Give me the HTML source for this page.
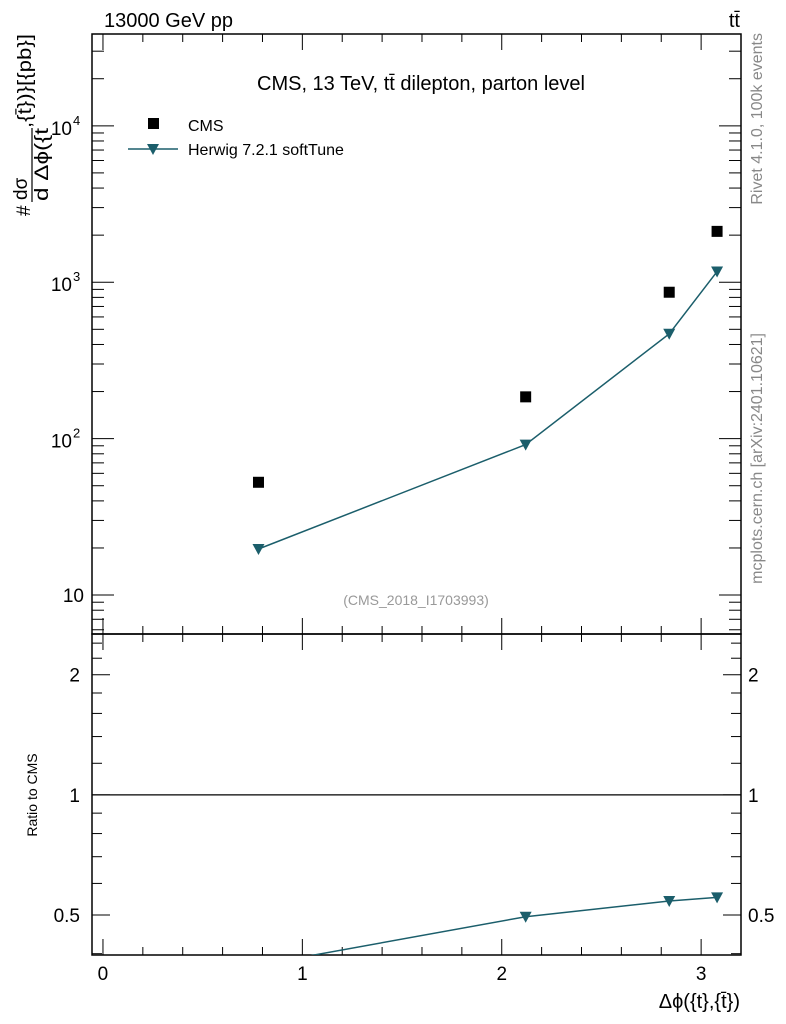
<!DOCTYPE html>
<html><head><meta charset="utf-8">
<style>
html,body{margin:0;padding:0;background:#fff;}
svg{display:block;font-family:"Liberation Sans",sans-serif;}
</style></head>
<body>
<svg id="chart" width="786" height="1024" viewBox="0 0 786 1024" xmlns="http://www.w3.org/2000/svg">
<g id="g"></g>
</svg>
<script>
const categories = [0.78, 2.12, 2.84, 3.08];
const cmsValues = [52.6, 185, 863, 2114];
const herwigValues = [19.7, 91.6, 468, 1170];
const xTicks = [0, 1, 2, 3];
const mainYTicks = [10, 100, 1000, 10000];
const mainYTickLabels = ["10", "10²", "10³", "10⁴"];
const ratioTicks = [0.5, 1, 2];
const ratioTickLabels = ["0.5", "1", "2"];

const L = 92, R = 741, T = 34, MB = 634, RB = 955;
const XMIN = -0.055, XMAX = 3.2;
const LYMIN = 0.751, LYMAX = 4.587;
const RLMIN = Math.log2(0.397), RLMAX = Math.log2(2.53);
const NS = "http://www.w3.org/2000/svg";
const g = document.getElementById('g');
const teal = "#1b5e6b";

function xs(v){ return L + (v - XMIN) / (XMAX - XMIN) * (R - L); }
function ys(v){ return MB - (Math.log10(v) - LYMIN) / (LYMAX - LYMIN) * (MB - T); }
function yr(v){ return RB - (Math.log2(v) - RLMIN) / (RLMAX - RLMIN) * (RB - MB); }

function el(tag, attrs, text){
  const e = document.createElementNS(NS, tag);
  for (const k in attrs) e.setAttribute(k, attrs[k]);
  if (text !== undefined) e.textContent = text;
  g.appendChild(e);
  return e;
}
function line(x1,y1,x2,y2,sw,col){ return el('line',{x1,y1,x2,y2,stroke:col||'#000','stroke-width':sw||1}); }

let f1 = el('rect',{x:L,y:T,width:R-L,height:MB-T,fill:'none',stroke:'#000','stroke-width':1.5});


let f2 = el('rect',{x:L,y:MB,width:R-L,height:RB-MB,fill:'none',stroke:'#000','stroke-width':1.5});



for (let v = 0; v <= 3.2; v += 0.2) {
  const vv = Math.round(v*10)/10;
  const major = Math.abs(vv - Math.round(vv)) < 1e-6;
  const len = major ? 16 : 8;
  const x = xs(vv);
  line(x, MB, x, MB-len); line(x, T, x, T+len);
  line(x, RB, x, RB-len); line(x, MB, x, MB+len);
}
xTicks.forEach((v,i)=>{
  const t = el('text',{x:xs(v),y:980,'font-size':19,'text-anchor':'middle'}, String(v));
  
  
});

for (let d = 0; d <= 4; d++) {
  for (let m = 1; m <= 9; m++) {
    const v = m * Math.pow(10, d);
    const lv = Math.log10(v);
    if (lv < LYMIN || lv > LYMAX) continue;
    const len = m === 1 ? 22 : 12;
    const y = ys(v);
    line(L, y, L+len, y); line(R, y, R-len, y);
  }
}
mainYTicks.forEach((v,i)=>{
  const lab = mainYTickLabels[i];
  let t;
  if (i === 0) {
    t = el('text',{x:84,y:ys(v)+7,'font-size':19,'text-anchor':'end'}, lab);
  } else {
    t = el('text',{x:72,y:ys(v)+9,'font-size':19,'text-anchor':'end'}, '10');
    const s = el('text',{x:73,y:ys(v)-1,'font-size':13,'text-anchor':'start'}, String(i+1));
    
    
  }
  
  
});

const rminor = [0.4,0.5,0.6,0.7,0.8,0.9,1,1.2,1.4,1.6,1.8,2,2.2,2.4];
rminor.forEach(v=>{
  const y = yr(v);
  const major = ratioTicks.indexOf(v) >= 0;
  const len = major ? 18 : 10;
  line(L, y, L+len, y); line(R, y, R-len, y);
});
ratioTicks.forEach((v,i)=>{
  const t = el('text',{x:80,y:yr(v)+7,'font-size':19,'text-anchor':'end'}, ratioTickLabels[i]);
  
  
  const t2 = el('text',{x:748,y:yr(v)+7,'font-size':19,'text-anchor':'start'}, ratioTickLabels[i]);
  
  
});
let ref = line(L, yr(1), R, yr(1), 1.3);



let pts = categories.map((c,i)=>xs(c)+','+ys(herwigValues[i])).join(' ');
let hl = el('polyline',{points:pts,fill:'none',stroke:teal,'stroke-width':1.5});


function tri(x,y){ return el('polygon',{points:`${x-6},${y-5} ${x+6},${y-5} ${x},${y+6}`,fill:teal}); }
categories.forEach((c,i)=>{
  const m = tri(xs(c), ys(herwigValues[i]));
  
  
});
categories.forEach((c,i)=>{
  const m = el('rect',{x:xs(c)-5.5,y:ys(cmsValues[i])-5.5,width:11,height:11,fill:'#000'});
  
  
});

const cp = el('clipPath',{id:'rclip'});
const cr = document.createElementNS(NS,'rect');
cr.setAttribute('x',L); cr.setAttribute('y',MB); cr.setAttribute('width',R-L); cr.setAttribute('height',RB-MB);
cp.appendChild(cr);
const ratios = categories.map((c,i)=>herwigValues[i]/cmsValues[i]);
let rp = categories.map((c,i)=>xs(c)+','+yr(ratios[i])).join(' ');
let rl = el('polyline',{points:rp,fill:'none',stroke:teal,'stroke-width':1.5,'clip-path':'url(#rclip)'});


categories.forEach((c,i)=>{
  const y = yr(ratios[i]);
  if (y < MB || y > RB) return;
  const m = tri(xs(c), y);
  
  
});

function txt(name, attrs, s){ const t = el('text', attrs, s);   return t; }
txt('energy-label',{x:104,y:27,'font-size':20},'13000 GeV pp');
txt('process-label',{x:740,y:27,'font-size':20,'text-anchor':'end'},'tt̄');
txt('plot-title',{x:421,y:90,'font-size':20,'text-anchor':'middle'},'CMS, 13 TeV, tt̄ dilepton, parton level');
txt('analysis-id',{x:416,y:605,'font-size':14,fill:'#999','text-anchor':'middle'},'(CMS_2018_I1703993)');
txt('rivet-label',{x:0,y:0,'font-size':16,fill:'#888','text-anchor':'end',transform:'translate(762,33) rotate(-90)'},'Rivet 4.1.0,  100k events');
txt('mcplots-label',{x:0,y:0,'font-size':16,fill:'#888','text-anchor':'end',transform:'translate(762,333) rotate(-90)'},'mcplots.cern.ch [arXiv:2401.10621]');

let lr = el('rect',{x:148,y:118,width:11,height:11,fill:'#000'});


txt('legend-cms-label',{x:188,y:131,'font-size':16},'CMS');
let ll = line(128,149,178,149,1.5,teal);


let lt = tri(153,149);


txt('legend-herwig-label',{x:188,y:155,'font-size':16},'Herwig 7.2.1 softTune');

txt('x-axis-title',{x:740,y:1008,'font-size':20,'text-anchor':'end'},'Δϕ({t},{t̄})');
txt('ratio-y-axis-title',{x:0,y:0,'font-size':14,'text-anchor':'middle',transform:'translate(37,795) rotate(-90)'},'Ratio to CMS');
const yt = el('g',{transform:'translate(0,216) rotate(-90)'});


function sub(parent, attrs, s){ const t=document.createElementNS(NS,'text'); for(const k in attrs)t.setAttribute(k,attrs[k]); t.textContent=s; parent.appendChild(t); return t; }
sub(yt,{x:0,y:30,'font-size':19},'#');
sub(yt,{x:16,y:27,'font-size':19},'dσ');
const fl = document.createElementNS(NS,'line');
fl.setAttribute('x1',14); fl.setAttribute('x2',88); fl.setAttribute('y1',32); fl.setAttribute('y2',32); fl.setAttribute('stroke','#000'); fl.setAttribute('stroke-width',1.2);
yt.appendChild(fl);
sub(yt,{x:15,y:48,'font-size':19,textLength:73,lengthAdjust:'spacingAndGlyphs'},'d Δϕ({t');
sub(yt,{x:88,y:31,'font-size':19,textLength:94,lengthAdjust:'spacingAndGlyphs'},',{t̄})}[{pb}]');
</script>
</body></html>
